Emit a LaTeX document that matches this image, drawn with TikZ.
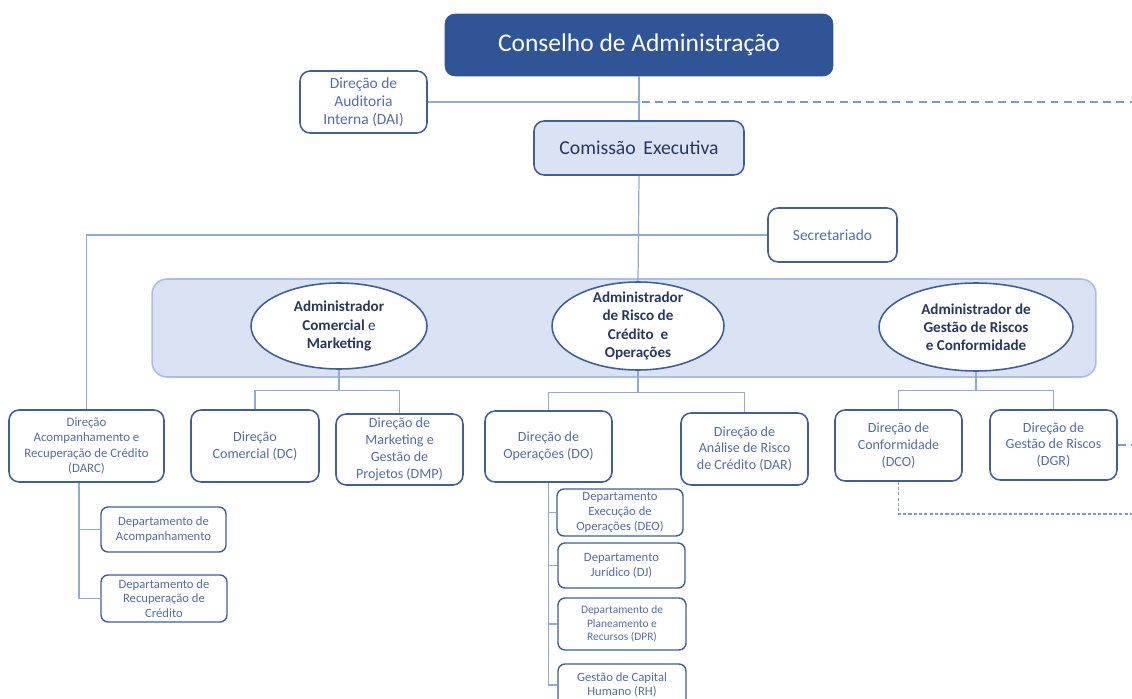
\documentclass[tikz,border=0pt]{standalone}
\usepackage{fontspec}
\setmainfont{Carlito}
\usetikzlibrary{shapes.geometric}
\definecolor{cdablue}{RGB}{47,85,151}
\definecolor{boxline}{RGB}{63,95,154}
\definecolor{boxtext}{RGB}{84,110,168}
\definecolor{linkblue}{RGB}{143,170,220}
\definecolor{dashblue}{RGB}{120,155,215}
\definecolor{paleblue}{RGB}{218,227,243}
\definecolor{bandline}{RGB}{169,190,228}
\definecolor{darktext}{RGB}{38,56,96}

\tikzset{
	dirbox/.style={draw=boxline, line width=0.9pt, rounded corners=0.2cm, fill=white, text=boxtext, align=center, inner sep=1pt, font=\fontsize{8}{9.6}\selectfont},
	deptbox/.style={draw=boxline, line width=0.8pt, rounded corners=0.14cm, fill=white, text=boxtext, align=center, inner sep=1pt, font=\fontsize{7.2}{8.4}\selectfont},
	admell/.style={ellipse, draw=boxline, line width=0.9pt, fill=white, inner sep=0pt},
	admtext/.style={text=darktext, align=center, font=\bfseries\fontsize{8.6}{10.3}\selectfont},
	link/.style={draw=linkblue, line width=0.7pt},
	dashlink/.style={draw=dashblue, line width=1.1pt, dash pattern=on 4.5pt off 3pt},
	dotlink/.style={draw=dashblue, line width=0.7pt, dash pattern=on 1.8pt off 1.2pt}
}

\begin{document}
\begin{tikzpicture}[x=0.02cm, y=-0.02cm]
		%%%%% START %%%%%
		\useasboundingbox (0,0) rectangle (1132,699);
		
		% faixa dos administradores
		\node[draw=bandline, line width=0.9pt, fill=paleblue, rounded corners=0.3cm, minimum width=18.88cm, minimum height=1.96cm] (band) at (624,328) {};
		
		\node[draw=cdablue, fill=cdablue, rounded corners=0.2cm, text=white, minimum width=7.76cm, minimum height=1.24cm, font=\fontsize{14.5}{17}\selectfont] (cda) at (639,45) {Conselho de Administração};
		\node[dirbox, minimum width=2.54cm, minimum height=1.24cm, font=\fontsize{8.8}{10.4}\selectfont] (dai) at (363.5,102) {Direção de\\Auditoria\\Interna (DAI)};
		\node[draw=boxline, line width=0.9pt, fill=paleblue, rounded corners=0.2cm, text=darktext, minimum width=4.2cm, minimum height=1.08cm, font=\fontsize{11.2}{13}\selectfont] (ce) at (639,148) {Comissão\ \,Executiva};
		\node[dirbox, minimum width=2.58cm, minimum height=1.08cm, font=\fontsize{8.8}{10.4}\selectfont] (sec) at (832.5,235) {Secretariado};
		
		\node[admell, minimum width=3.52cm, minimum height=1.72cm, label={[admtext]center:Administrador\\Comercial {\mdseries e}\\Marketing}] (adm1) at (339,326) {};
		\node[admell, minimum width=3.44cm, minimum height=1.76cm, label={[admtext]center:Administrador\\de Risco de\\Crédito\ \ e\\Operações}] (adm2) at (638,326) {};
		\node[admell, minimum width=3.88cm, minimum height=1.76cm, label={[admtext]center:Administrador de\\Gestão de Riscos\\e Conformidade}] (adm3) at (976,327) {};
		
		\node[dirbox, minimum width=3.1cm, minimum height=1.44cm, font=\fontsize{7.3}{8.6}\selectfont] (darc) at (86.5,446) {Direção\\Acompanhamento e\\Recuperação de Crédito\\(DARC)};
		\node[dirbox, minimum width=2.56cm, minimum height=1.44cm] (dc) at (255,446) {Direção\\Comercial (DC)};
		\node[dirbox, minimum width=2.54cm, minimum height=1.42cm] (dmp) at (399.5,449.5) {Direção de\\Marketing e\\Gestão de\\Projetos (DMP)};
		\node[dirbox, minimum width=2.54cm, minimum height=1.42cm] (do) at (548.5,446.5) {Direção de\\Operações (DO)};
		\node[dirbox, minimum width=2.54cm, minimum height=1.44cm] (dar) at (744.5,449) {Direção de\\Análise de Risco\\de Crédito (DAR)};
		\node[dirbox, minimum width=2.54cm, minimum height=1.42cm] (dco) at (898.5,445.5) {Direção de\\Conformidade\\(DCO)};
		\node[dirbox, minimum width=2.54cm, minimum height=1.4cm] (dgr) at (1053.5,445) {Direção de\\Gestão de Riscos\\(DGR)};
		
		\node[deptbox, minimum width=2.5cm, minimum height=0.9cm] (dac) at (163.5,529.5) {Departamento de\\Acompanhamento};
		\node[deptbox, minimum width=2.52cm, minimum height=0.94cm] (drc) at (164,598.5) {Departamento de\\Recuperação de\\Crédito};
		
		\node[deptbox, minimum width=2.52cm, minimum height=0.94cm] (deo) at (620,512.5) {Departamento\\Execução de\\Operações (DEO)};
		\node[deptbox, minimum width=2.54cm, minimum height=0.9cm] (dj) at (621.5,565.5) {Departamento\\Jurídico (DJ)};
		\node[deptbox, minimum width=2.56cm, minimum height=1.04cm, font=\fontsize{6.5}{7.8}\selectfont] (dpr) at (622,624) {Departamento de\\Planeamento e\\Recursos (DPR)};
		\node[deptbox, minimum width=2.56cm, minimum height=0.84cm] (rh) at (622,685) {Gestão de Capital\\Humano (RH)};
		
		\coordinate (daiR) at (1132,102);
		\coordinate (dgrR) at (1132,445);
		\coordinate (dcoR) at (1132,514);
		
		% ligacoes
		\draw[link] (cda.south) -- (ce.north);
		\draw[link] (dai.east) -- (dai.east -| cda.south);
		\draw[dashlink] ([xshift=0.06cm]dai.east -| cda.south) -- (daiR);
		\draw[link] (ce.south) -- (adm2.north);
		\draw[link] (sec.west) -| (darc.north);
		
		\draw[link] (adm1.south) -- ++(0,-0.42cm) coordinate (j1);
		\draw[link] (dc.north) |- (j1) -| (dmp.north);
		\draw[link] (adm2.south) -- ++(0,-0.44cm) coordinate (j2);
		\draw[link] (do.north) |- (j2) -| (dar.north);
		\draw[link] (adm3.south) -- ++(0,-0.38cm) coordinate (j3);
		\draw[link] (dco.north) |- (j3) -| (dgr.north);
		
		\coordinate (dv) at ([xshift=-0.15cm]darc.south);
		\draw[link] (dv) |- (drc.west);
		\draw[link] (dac.west) -- (dac.west -| dv);
		
		\draw[link] (do.south) |- (rh.west);
		\foreach \d in {deo,dj,dpr}
			\draw[link] (\d.west) -- (\d.west -| do.south);
		
		\draw[dashlink] (dgr.east) -- (dgrR);
		\draw[dotlink] (dco.south) |- (dcoR);
		
		%%%%% END %%%%%
	\end{tikzpicture}
\end{document}
